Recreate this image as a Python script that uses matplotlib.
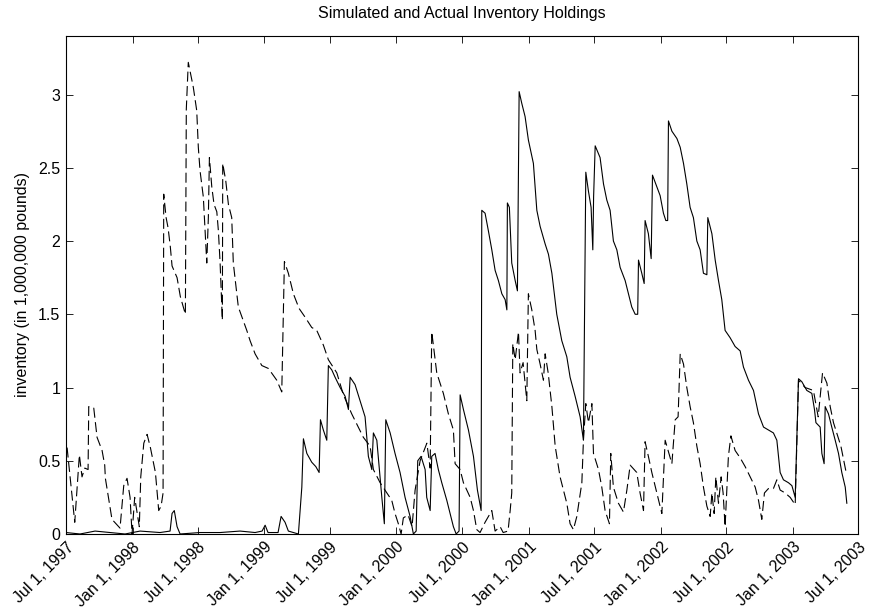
import numpy as np
import pandas as pd
import matplotlib
matplotlib.use("Agg")
import matplotlib.pyplot as plt
import matplotlib.transforms as mtransforms

plt.rcParams['font.family'] = ['Liberation Sans', 'DejaVu Sans']

# actual holdings (dashed), time in decimal years
actual_t = [1997.508, 1997.566, 1997.601, 1997.621, 1997.642, 1997.667, 1997.672, 1997.710,
            1997.735, 1997.773, 1997.793, 1997.798, 1997.848, 1997.909, 1997.937, 1997.962,
            1997.985, 1998.000, 1998.020, 1998.055, 1998.066, 1998.089, 1998.114, 1998.139,
            1998.177, 1998.202, 1998.220, 1998.235, 1998.240, 1998.258, 1998.273, 1998.290,
            1998.303, 1998.341, 1998.366, 1998.404, 1998.411, 1998.426, 1998.464, 1998.490,
            1998.502, 1998.515, 1998.540, 1998.566, 1998.578, 1998.586, 1998.604, 1998.621,
            1998.642, 1998.654, 1998.667, 1998.684, 1998.687, 1998.710, 1998.730, 1998.755,
            1998.767, 1998.805, 1998.869, 1998.894, 1998.932, 1998.983, 1999.033, 1999.096,
            1999.134, 1999.154, 1999.184, 1999.222, 1999.265, 1999.311, 1999.361, 1999.399,
            1999.449, 1999.487, 1999.551, 1999.601, 1999.664, 1999.752, 1999.803, 1999.828,
            1999.879, 1999.967, 1999.992, 2000.017, 2000.038, 2000.055, 2000.091, 2000.121,
            2000.144, 2000.182, 2000.233, 2000.258, 2000.270, 2000.308, 2000.358, 2000.396,
            2000.434, 2000.447, 2000.485, 2000.510, 2000.561, 2000.586, 2000.611, 2000.636,
            2000.674, 2000.725, 2000.750, 2000.788, 2000.811, 2000.848, 2000.864, 2000.876,
            2000.884, 2000.902, 2000.927, 2000.939, 2000.962, 2000.990, 2001.002, 2001.028,
            2001.053, 2001.066, 2001.091, 2001.116, 2001.129, 2001.152, 2001.180, 2001.205,
            2001.242, 2001.293, 2001.318, 2001.343, 2001.369, 2001.407, 2001.419, 2001.437,
            2001.457, 2001.483, 2001.495, 2001.533, 2001.558, 2001.583, 2001.616, 2001.626,
            2001.646, 2001.684, 2001.722, 2001.748, 2001.773, 2001.823, 2001.848, 2001.874,
            2001.886, 2001.911, 2001.937, 2001.975, 2002.013, 2002.038, 2002.089, 2002.114,
            2002.136, 2002.152, 2002.177, 2002.202, 2002.227, 2002.252, 2002.278, 2002.303,
            2002.328, 2002.354, 2002.379, 2002.392, 2002.409, 2002.422, 2002.442, 2002.462,
            2002.477, 2002.492, 2002.517, 2002.536, 2002.568, 2002.606, 2002.644, 2002.682,
            2002.720, 2002.745, 2002.770, 2002.790, 2002.820, 2002.858, 2002.884, 2002.909,
            2002.947, 2002.985, 2003.023, 2003.048, 2003.098, 2003.161, 2003.197, 2003.230,
            2003.263, 2003.288, 2003.313, 2003.369, 2003.409]
actual_v = [0.59, 0.08, 0.54, 0.39, 0.45, 0.44, 0.87, 0.86,
            0.66, 0.57, 0.47, 0.38, 0.10, 0.04, 0.33, 0.38,
            0.25, 0.00, 0.25, 0.05, 0.39, 0.62, 0.68, 0.59,
            0.42, 0.16, 0.19, 0.28, 2.32, 2.16, 2.09, 1.96,
            1.83, 1.75, 1.62, 1.50, 2.90, 3.22, 3.05, 2.89,
            2.64, 2.48, 2.30, 1.85, 2.16, 2.57, 2.37, 2.25,
            2.20, 2.07, 1.85, 1.46, 2.53, 2.41, 2.25, 2.16,
            1.85, 1.55, 1.39, 1.32, 1.23, 1.15, 1.13, 1.05,
            0.97, 1.86, 1.78, 1.64, 1.54, 1.48, 1.41, 1.39,
            1.29, 1.19, 1.10, 0.95, 0.82, 0.66, 0.60, 0.44,
            0.35, 0.23, 0.14, 0.07, 0.00, 0.11, 0.13, 0.05,
            0.30, 0.50, 0.62, 0.45, 1.38, 1.10, 0.96, 0.82,
            0.71, 0.48, 0.44, 0.35, 0.25, 0.16, 0.03, 0.01,
            0.08, 0.16, 0.02, 0.05, 0.01, 0.02, 0.16, 0.28,
            1.30, 1.19, 1.38, 1.10, 1.17, 0.91, 1.64, 1.53,
            1.39, 1.26, 1.16, 1.05, 1.23, 1.10, 0.87, 0.60,
            0.39, 0.21, 0.07, 0.03, 0.12, 0.35, 0.64, 0.89,
            0.76, 0.89, 0.55, 0.44, 0.32, 0.16, 0.07, 0.55,
            0.32, 0.21, 0.15, 0.30, 0.47, 0.42, 0.28, 0.16,
            0.63, 0.53, 0.42, 0.28, 0.14, 0.64, 0.48, 0.78,
            0.80, 1.23, 1.16, 1.00, 0.87, 0.76, 0.60, 0.48,
            0.32, 0.19, 0.12, 0.28, 0.14, 0.39, 0.21, 0.39,
            0.28, 0.05, 0.53, 0.67, 0.57, 0.52, 0.46, 0.39,
            0.32, 0.23, 0.10, 0.28, 0.31, 0.31, 0.37, 0.30,
            0.28, 0.25, 0.20, 1.05, 1.00, 0.98, 0.80, 1.10,
            1.03, 0.87, 0.76, 0.60, 0.42]

# simulated holdings (solid)
sim_t = [1997.500, 1997.606, 1997.720, 1997.833, 1997.947, 1998.061, 1998.212, 1998.288,
         1998.303, 1998.320, 1998.341, 1998.364, 1998.515, 1998.667, 1998.818, 1998.932,
         1998.985, 1999.008, 1999.030, 1999.106, 1999.129, 1999.159, 1999.184, 1999.260,
         1999.273, 1999.286, 1999.298, 1999.324, 1999.361, 1999.392, 1999.417, 1999.427,
         1999.449, 1999.475, 1999.487, 1999.513, 1999.538, 1999.576, 1999.614, 1999.639,
         1999.652, 1999.689, 1999.727, 1999.765, 1999.790, 1999.816, 1999.828, 1999.854,
         1999.892, 1999.911, 1999.922, 1999.955, 1999.992, 2000.030, 2000.068, 2000.106,
         2000.131, 2000.152, 2000.164, 2000.189, 2000.220, 2000.232, 2000.258, 2000.270,
         2000.295, 2000.320, 2000.346, 2000.384, 2000.409, 2000.434, 2000.455, 2000.477,
         2000.485, 2000.510, 2000.548, 2000.586, 2000.616, 2000.644, 2000.649, 2000.674,
         2000.699, 2000.725, 2000.750, 2000.775, 2000.801, 2000.826, 2000.839, 2000.843,
         2000.858, 2000.876, 2000.902, 2000.919, 2000.932, 2000.952, 2000.977, 2001.002,
         2001.040, 2001.066, 2001.091, 2001.129, 2001.154, 2001.180, 2001.217, 2001.255,
         2001.293, 2001.318, 2001.356, 2001.394, 2001.419, 2001.437, 2001.457, 2001.477,
         2001.490, 2001.496, 2001.508, 2001.545, 2001.571, 2001.596, 2001.621, 2001.646,
         2001.672, 2001.697, 2001.735, 2001.760, 2001.785, 2001.811, 2001.830, 2001.836,
         2001.861, 2001.879, 2001.886, 2001.911, 2001.932, 2001.942, 2001.975, 2002.000,
         2002.025, 2002.043, 2002.057, 2002.063, 2002.089, 2002.127, 2002.152, 2002.177,
         2002.202, 2002.227, 2002.252, 2002.278, 2002.303, 2002.328, 2002.354, 2002.361,
         2002.392, 2002.417, 2002.442, 2002.467, 2002.492, 2002.530, 2002.568, 2002.606,
         2002.631, 2002.669, 2002.707, 2002.745, 2002.783, 2002.820, 2002.858, 2002.884,
         2002.909, 2002.934, 2002.972, 2002.998, 2003.023, 2003.048, 2003.073, 2003.111,
         2003.149, 2003.169, 2003.180, 2003.212, 2003.225, 2003.242, 2003.250, 2003.275,
         2003.300, 2003.326, 2003.351, 2003.376, 2003.402, 2003.414]
sim_v = [0.01, 0.00, 0.02, 0.01, 0.00, 0.02, 0.01, 0.02,
         0.14, 0.16, 0.05, 0.00, 0.01, 0.01, 0.02, 0.01,
         0.02, 0.06, 0.01, 0.01, 0.12, 0.08, 0.02, 0.00,
         0.16, 0.32, 0.65, 0.55, 0.49, 0.46, 0.42, 0.78,
         0.71, 0.64, 1.15, 1.12, 1.07, 1.00, 0.94, 0.85,
         1.07, 1.02, 0.91, 0.80, 0.53, 0.44, 0.69, 0.64,
         0.25, 0.07, 0.78, 0.69, 0.55, 0.42, 0.25, 0.12,
         0.00, 0.02, 0.50, 0.53, 0.44, 0.25, 0.16, 0.53,
         0.55, 0.44, 0.35, 0.23, 0.14, 0.05, 0.00, 0.02,
         0.95, 0.85, 0.71, 0.53, 0.30, 0.16, 2.21, 2.19,
         2.07, 1.94, 1.80, 1.73, 1.64, 1.60, 1.53, 2.26,
         2.23, 1.85, 1.73, 1.66, 3.02, 2.94, 2.85, 2.69,
         2.53, 2.21, 2.10, 1.98, 1.91, 1.78, 1.50, 1.32,
         1.21, 1.07, 0.94, 0.80, 0.64, 2.47, 2.34, 2.23,
         1.94, 2.30, 2.65, 2.57, 2.39, 2.28, 2.21, 2.00,
         1.94, 1.82, 1.73, 1.64, 1.55, 1.50, 1.50, 1.87,
         1.78, 1.71, 2.14, 2.05, 1.88, 2.45, 2.37, 2.31,
         2.19, 2.14, 2.14, 2.82, 2.75, 2.70, 2.64, 2.53,
         2.39, 2.23, 2.16, 2.00, 1.94, 1.78, 1.77, 2.16,
         2.05, 1.87, 1.73, 1.60, 1.39, 1.34, 1.28, 1.25,
         1.14, 1.05, 0.98, 0.82, 0.73, 0.71, 0.69, 0.64,
         0.42, 0.37, 0.35, 0.33, 0.25, 1.06, 1.04, 0.98,
         0.96, 0.85, 0.76, 0.73, 0.55, 0.48, 0.87, 0.82,
         0.73, 0.64, 0.55, 0.42, 0.32, 0.21]

tick_dates = ['1997-07-01', '1998-01-01', '1998-07-01', '1999-01-01', '1999-07-01',
              '2000-01-01', '2000-07-01', '2001-01-01', '2001-07-01', '2002-01-01',
              '2002-07-01', '2003-01-01', '2003-07-01']


def to_dates(years):
    base = pd.Timestamp('1997-07-01')
    days = (np.asarray(years) - 1997.5) * 365.25
    return base + pd.to_timedelta(days, unit='D')


fig = plt.figure(figsize=(8.7, 6.14), dpi=100)
ax = fig.add_axes([0.0759, 0.1303, 0.9103, 0.8111])

ax.plot(to_dates(sim_t), sim_v, color='black', lw=0.8)
ax.plot(to_dates(actual_t), actual_v, color='black', lw=0.8, dashes=(9, 4))

ticks = pd.to_datetime(tick_dates)
ax.set_xlim(ticks[0], ticks[-1])
ax.set_ylim(0, 3.4)
ax.set_xticks(ticks)
ax.set_xticklabels([f"{d.strftime('%b')} {d.day}, {d.year}" for d in ticks],
                   rotation=45, ha='right', rotation_mode='anchor', fontsize=11.5)
# nudge rotated date labels so they end just right of their tick
shift = mtransforms.ScaledTranslation(6 / 100, -2 / 100, fig.dpi_scale_trans)
for lbl in ax.get_xticklabels():
    lbl.set_transform(lbl.get_transform() + shift)
ax.set_yticks([0, 0.5, 1, 1.5, 2, 2.5, 3])
ax.set_yticklabels(['0', '0.5', '1', '1.5', '2', '2.5', '3'], fontsize=11.5)
ax.tick_params(direction='in', length=5, width=0.6, top=True, right=True, pad=4)
for s in ax.spines.values():
    s.set_linewidth(0.8)

ax.set_ylabel('inventory (in 1,000,000 pounds)', fontsize=11.5, labelpad=6)
ax.set_title('Simulated and Actual Inventory Holdings', fontsize=11.5, pad=13)

fig.savefig('out.png', dpi=100)
